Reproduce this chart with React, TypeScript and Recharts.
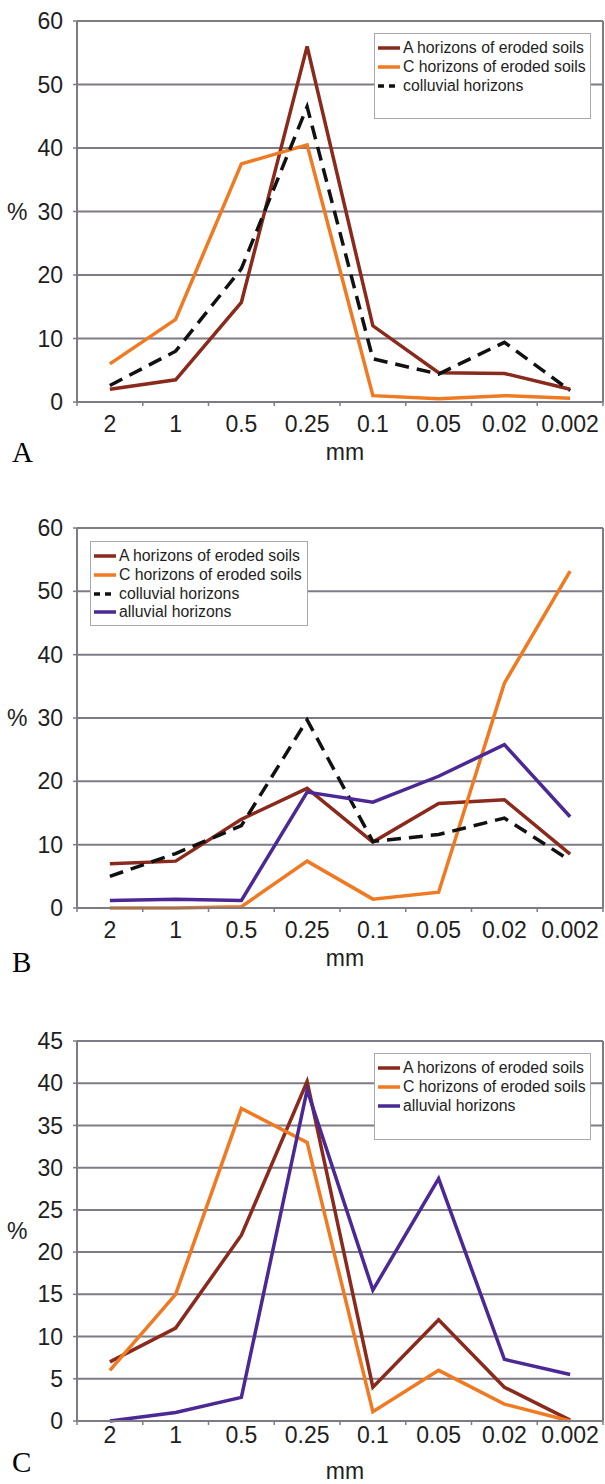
import React from 'react';
import { LineChart, Line, XAxis, YAxis, CartesianGrid, Legend } from 'recharts';

// particle size classes (mm)
const categories = ['2', '1', '0.5', '0.25', '0.1', '0.05', '0.02', '0.002'];

// panel A
const aErodedA = [2.0, 3.5, 15.7, 56.0, 12.0, 4.6, 4.5, 2.0];
const cErodedA = [6.0, 13.0, 37.5, 40.5, 1.0, 0.5, 1.0, 0.6];
const colluvialA = [2.6, 8.0, 21.0, 46.5, 6.8, 4.4, 9.4, 1.8];

// panel B
const aErodedB = [7.0, 7.4, 14.0, 18.9, 10.4, 16.5, 17.1, 8.5];
const cErodedB = [0, 0, 0.2, 7.4, 1.4, 2.5, 35.5, 53.2];
const colluvialB = [5.0, 8.6, 13.0, 29.7, 10.5, 11.6, 14.2, 7.5];
const alluvialB = [1.2, 1.4, 1.2, 18.3, 16.7, 20.8, 25.8, 14.4];

// panel C
const aErodedC = [7.0, 11.0, 22.0, 40.2, 4.0, 12.0, 4.0, 0.1];
const cErodedC = [6.0, 15.0, 37.0, 33.0, 1.1, 6.0, 2.0, 0];
const alluvialC = [0, 1.0, 2.8, 39.2, 15.5, 28.7, 7.3, 5.5];

const ticksA = [0, 10, 20, 30, 40, 50, 60];
const ticksC = [0, 5, 10, 15, 20, 25, 30, 35, 40, 45];

const FONT = '"Liberation Sans", Arial, Helvetica, sans-serif';
const SERIF = '"Liberation Serif", "Times New Roman", serif';
const GRID = '#7e7b86';
const TEXT = '#1e1e1e';
const FS = 23;

const W = 605;
const Y_AXIS_W = 77;
const RIGHT = 2;
const PLOT_W = W - Y_AXIS_W - RIGHT;
const BAND = PLOT_W / categories.length;

const SERIES: Record<string, { name: string; color: string; dash?: string; legendDash?: string }> = {
  a: { name: 'A horizons of eroded soils', color: '#8a2a1c' },
  c: { name: 'C horizons of eroded soils', color: '#f07a22' },
  col: { name: 'colluvial horizons', color: '#111111', dash: '14 8', legendDash: '6 5' },
  all: { name: 'alluvial horizons', color: '#4b2894' },
};

const buildRows = (vals: Record<string, number[]>) =>
  categories.map((size, i) => {
    const row: any = { size };
    Object.keys(vals).forEach(k => (row[k] = vals[k][i]));
    return row;
  });

const panels = [
  {
    letter: 'A', top: 0, height: 470, marginTop: 21, axisH: 68, labelDy: 30, mmOffset: 10,
    letterY: 462, yMax: 60, ticks: ticksA,
    values: { a: aErodedA, c: cErodedA, col: colluvialA },
    legend: { left: 374, top: 33, width: 217, height: 86 },
  },
  {
    letter: 'B', top: 500, height: 470, marginTop: 28, axisH: 62, labelDy: 30, mmOffset: 4,
    letterY: 972, yMax: 60, ticks: ticksA,
    values: { a: aErodedB, c: cErodedB, col: colluvialB, all: alluvialB },
    legend: { left: 90, top: 541, width: 218, height: 85 },
  },
  {
    letter: 'C', top: 1000, height: 484, marginTop: 41, axisH: 63, labelDy: 22, mmOffset: 5,
    letterY: 1472, yMax: 45, ticks: ticksC,
    values: { a: aErodedC, c: cErodedC, all: alluvialC },
    legend: { left: 374, top: 1053, width: 217, height: 87 },
  },
];

const SizeTick = (props: any) => {
  const { x, y, payload, index, labelDy } = props;
  const half = BAND / 2;
  return (
    <g>
      <line x1={x - half} y1={y - 1} x2={x - half} y2={y + 4} stroke={GRID} strokeWidth={1.5} />
      {index === categories.length - 1 && (
        <line x1={x + half} y1={y - 1} x2={x + half} y2={y + 4} stroke={GRID} strokeWidth={1.5} />
      )}
      <text x={x} y={y + labelDy} textAnchor="middle" fontSize={FS} fill={TEXT} fontFamily={FONT}>
        {payload.value}
      </text>
    </g>
  );
};

const LegendBox = ({ keys }: { keys: string[] }) => (
  <div
    style={{
      width: '100%', height: '100%', boxSizing: 'border-box', border: '1px solid #a9a9a9',
      background: '#fff', paddingTop: 5, paddingLeft: 3,
    }}
  >
    {keys.map(k => {
      const s = SERIES[k];
      return (
        <div key={k} style={{ display: 'flex', alignItems: 'center', height: 18.7 }}>
          <svg width={22} height={8} style={{ flex: 'none' }}>
            <line x1={0} y1={4} x2={22} y2={4} stroke={s.color} strokeWidth={3.5} strokeDasharray={s.legendDash} />
          </svg>
          <span style={{ marginLeft: 3, fontSize: 15.8, color: TEXT, fontFamily: FONT, whiteSpace: 'nowrap' }}>
            {s.name}
          </span>
        </div>
      );
    })}
  </div>
);

const Panel = ({ p }: { p: (typeof panels)[number] }) => {
  const keys = Object.keys(p.values);
  const data = buildRows(p.values);
  return (
    <div style={{ position: 'absolute', left: 0, top: p.top, width: W, height: p.height }}>
      <LineChart width={W} height={p.height} data={data} margin={{ top: p.marginTop, right: RIGHT, left: 0, bottom: 0 }}>
        <CartesianGrid
          stroke={GRID}
          strokeWidth={2}
          verticalCoordinatesGenerator={({ offset }: any) => [offset.left + offset.width]}
        />
        <XAxis
          dataKey="size"
          height={p.axisH}
          padding={{ left: BAND / 2, right: BAND / 2 }}
          axisLine={{ stroke: GRID, strokeWidth: 2 }}
          tickLine={false}
          tickSize={0}
          tickMargin={0}
          interval={0}
          tick={(t: any) => <SizeTick {...t} labelDy={p.labelDy} />}
          label={{ value: 'mm', position: 'insideBottom', offset: p.mmOffset, dx: 5, fontSize: FS, fill: TEXT, fontFamily: FONT }}
        />
        <YAxis
          width={Y_AXIS_W}
          domain={[0, p.yMax]}
          ticks={p.ticks}
          interval={0}
          axisLine={{ stroke: GRID, strokeWidth: 2 }}
          tickLine={{ stroke: GRID, strokeWidth: 1.5 }}
          tickSize={4}
          tickMargin={10}
          tick={{ fontSize: FS, fill: TEXT, fontFamily: FONT }}
          label={{ value: '%', position: 'insideLeft', offset: 7, fontSize: FS, fill: TEXT, fontFamily: FONT }}
        />
        <Legend
          layout="vertical"
          align="center"
          verticalAlign="middle"
          width={p.legend.width}
          height={p.legend.height}
          wrapperStyle={{
            top: p.legend.top - p.top, left: p.legend.left,
            width: p.legend.width, height: p.legend.height, margin: 0,
          }}
          content={() => <LegendBox keys={keys} />}
        />
        {keys.map(k => (
          <Line
            key={k}
            type="linear"
            dataKey={k}
            name={SERIES[k].name}
            stroke={SERIES[k].color}
            strokeWidth={3.5}
            strokeDasharray={SERIES[k].dash}
            dot={false}
            activeDot={false}
            isAnimationActive={false}
          />
        ))}
      </LineChart>
    </div>
  );
};

export default function App() {
  return (
    <div style={{ position: 'absolute', left: 0, top: 0, width: W, height: 1484, background: '#fff' }}>
      {panels.map(p => (
        <Panel key={p.letter} p={p} />
      ))}
      <svg width={W} height={1484} style={{ position: 'absolute', left: 0, top: 0, pointerEvents: 'none' }}>
        {panels.map(p => (
          <text key={p.letter} x={12} y={p.letterY} fontSize={29} fontFamily={SERIF} fill="#000">
            {p.letter}
          </text>
        ))}
      </svg>
    </div>
  );
}
